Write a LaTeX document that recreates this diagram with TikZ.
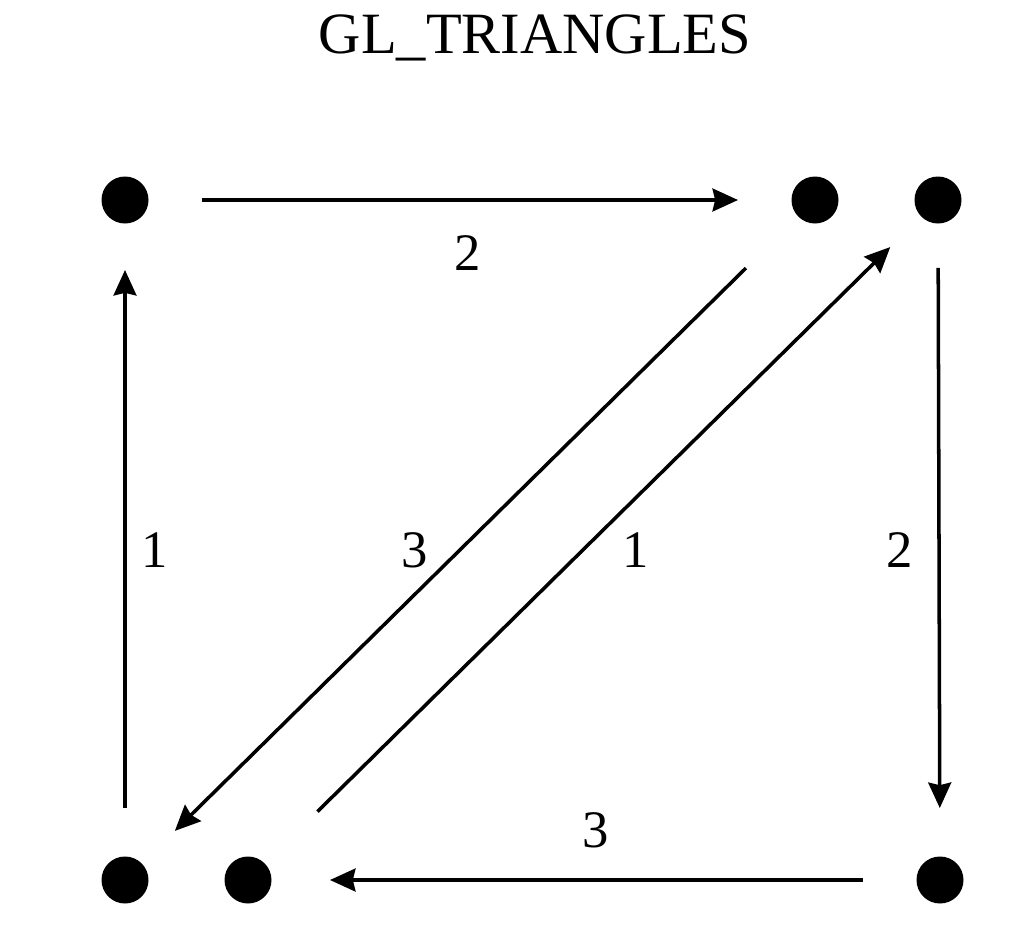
\documentclass[tikz,border=0pt]{standalone}
\usepackage{fontspec}
\setmainfont{Liberation Serif}
\usetikzlibrary{arrows.meta}
\begin{document}
\begin{tikzpicture}[x=0.02cm,y=-0.02cm,
  vdot/.style={circle,fill=black,draw=none,minimum size=47*0.02cm,inner sep=0pt},
  conn/.style={line width=2pt,-{Stealth[length=14.5pt,width=13pt,inset=1.5pt]}},
  lbl/.style={font=\fontsize{30}{36}\selectfont,inner sep=0pt},
  ttl/.style={font=\fontsize{33.3}{40}\selectfont,inner sep=0pt}]
\useasboundingbox (0,0) rectangle (1011,948);
\node[ttl] (title) at (535,38) {GL\_TRIANGLES};
\node[vdot] (tl) at (125,200) {};
\node[vdot] (tm) at (815,200) {};
\node[vdot] (tr) at (938,200) {};
\node[vdot] (bl) at (125,880) {};
\node[vdot] (bm) at (248,880) {};
\node[vdot] (br) at (940,880) {};
% edges
\draw[conn,shorten <=1.54cm,shorten >=1.54cm] (tl.center) -- (tm.center);
\draw[conn,shorten <=1.44cm,shorten >=1.40cm] (bl.center) -- (tl.center);
\draw[conn,shorten <=1.36cm,shorten >=1.44cm] (tr.center) -- (br.center);
\draw[conn,shorten <=1.54cm,shorten >=1.64cm] (br.center) -- (bm.center);
\draw[conn,shorten <=1.94cm,shorten >=1.40cm] (tm.center) -- (bl.center);
\draw[conn,shorten <=1.95cm,shorten >=1.34cm] (bm.center) -- (tr.center);
% labels
\node[lbl] (l1) at (468,253) {2};
\node[lbl] (l2) at (155,550) {1};
\node[lbl] (l3) at (900,550) {2};
\node[lbl] (l4) at (596,830) {3};
\node[lbl] (l5) at (415,550) {3};
\node[lbl] (l6) at (636,550) {1};
\end{tikzpicture}
\end{document}
